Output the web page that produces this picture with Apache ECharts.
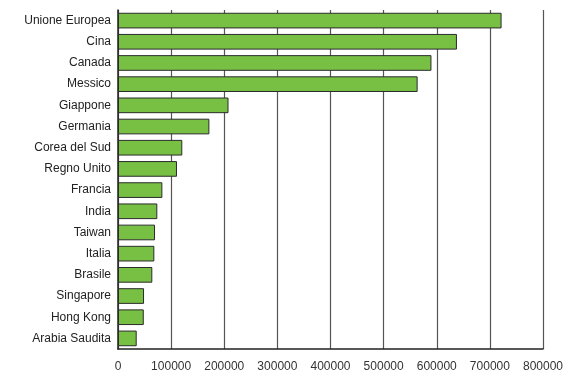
<!DOCTYPE html>
<html><head><meta charset="utf-8">
<script src="https://cdn.jsdelivr.net/npm/echarts@6/dist/echarts.min.js"></script>
<style>html,body{margin:0;padding:0;background:#fff}#c{width:577px;height:379px}</style>
</head><body><div id="c"></div>
<script>
const categories = ["Unione Europea","Cina","Canada","Messico","Giappone","Germania","Corea del Sud","Regno Unito","Francia","India","Taiwan","Italia","Brasile","Singapore","Hong Kong","Arabia Saudita"];
const values = [722000,638000,590000,564000,208000,172000,121000,111000,83500,74000,69700,68400,64600,49000,48500,35200];
const xMin = 0, xMax = 800000, xStep = 100000;

const chart = echarts.init(document.getElementById('c'), null, {renderer:'canvas'});
chart.setOption({
  animation:false,
  grid:{left:118,right:34,top:10,bottom:30,containLabel:false},
  xAxis:{type:'value',min:xMin,max:xMax,interval:xStep,
    axisLine:{show:true,lineStyle:{color:'#222',width:1.5}},
    axisTick:{show:false},
    axisLabel:{color:'#333',fontSize:12,fontFamily:'Liberation Sans, Arial, sans-serif',margin:12,
      formatter:function(v){return String(v);}},
    splitLine:{show:true,lineStyle:{color:'#555',width:1.2}}},
  yAxis:{type:'category',data:categories,inverse:true,
    axisLine:{show:true,lineStyle:{color:'#222',width:1.5}},
    axisTick:{show:false},
    axisLabel:{color:'#222',fontSize:12,fontFamily:'Liberation Sans, Arial, sans-serif',margin:7},
    splitLine:{show:false}},
  series:[{type:'bar',data:values,barWidth:'74%',
    itemStyle:{color:'#77c043',borderColor:'#2b2b2b',borderWidth:1}}]
});
</script></body></html>
